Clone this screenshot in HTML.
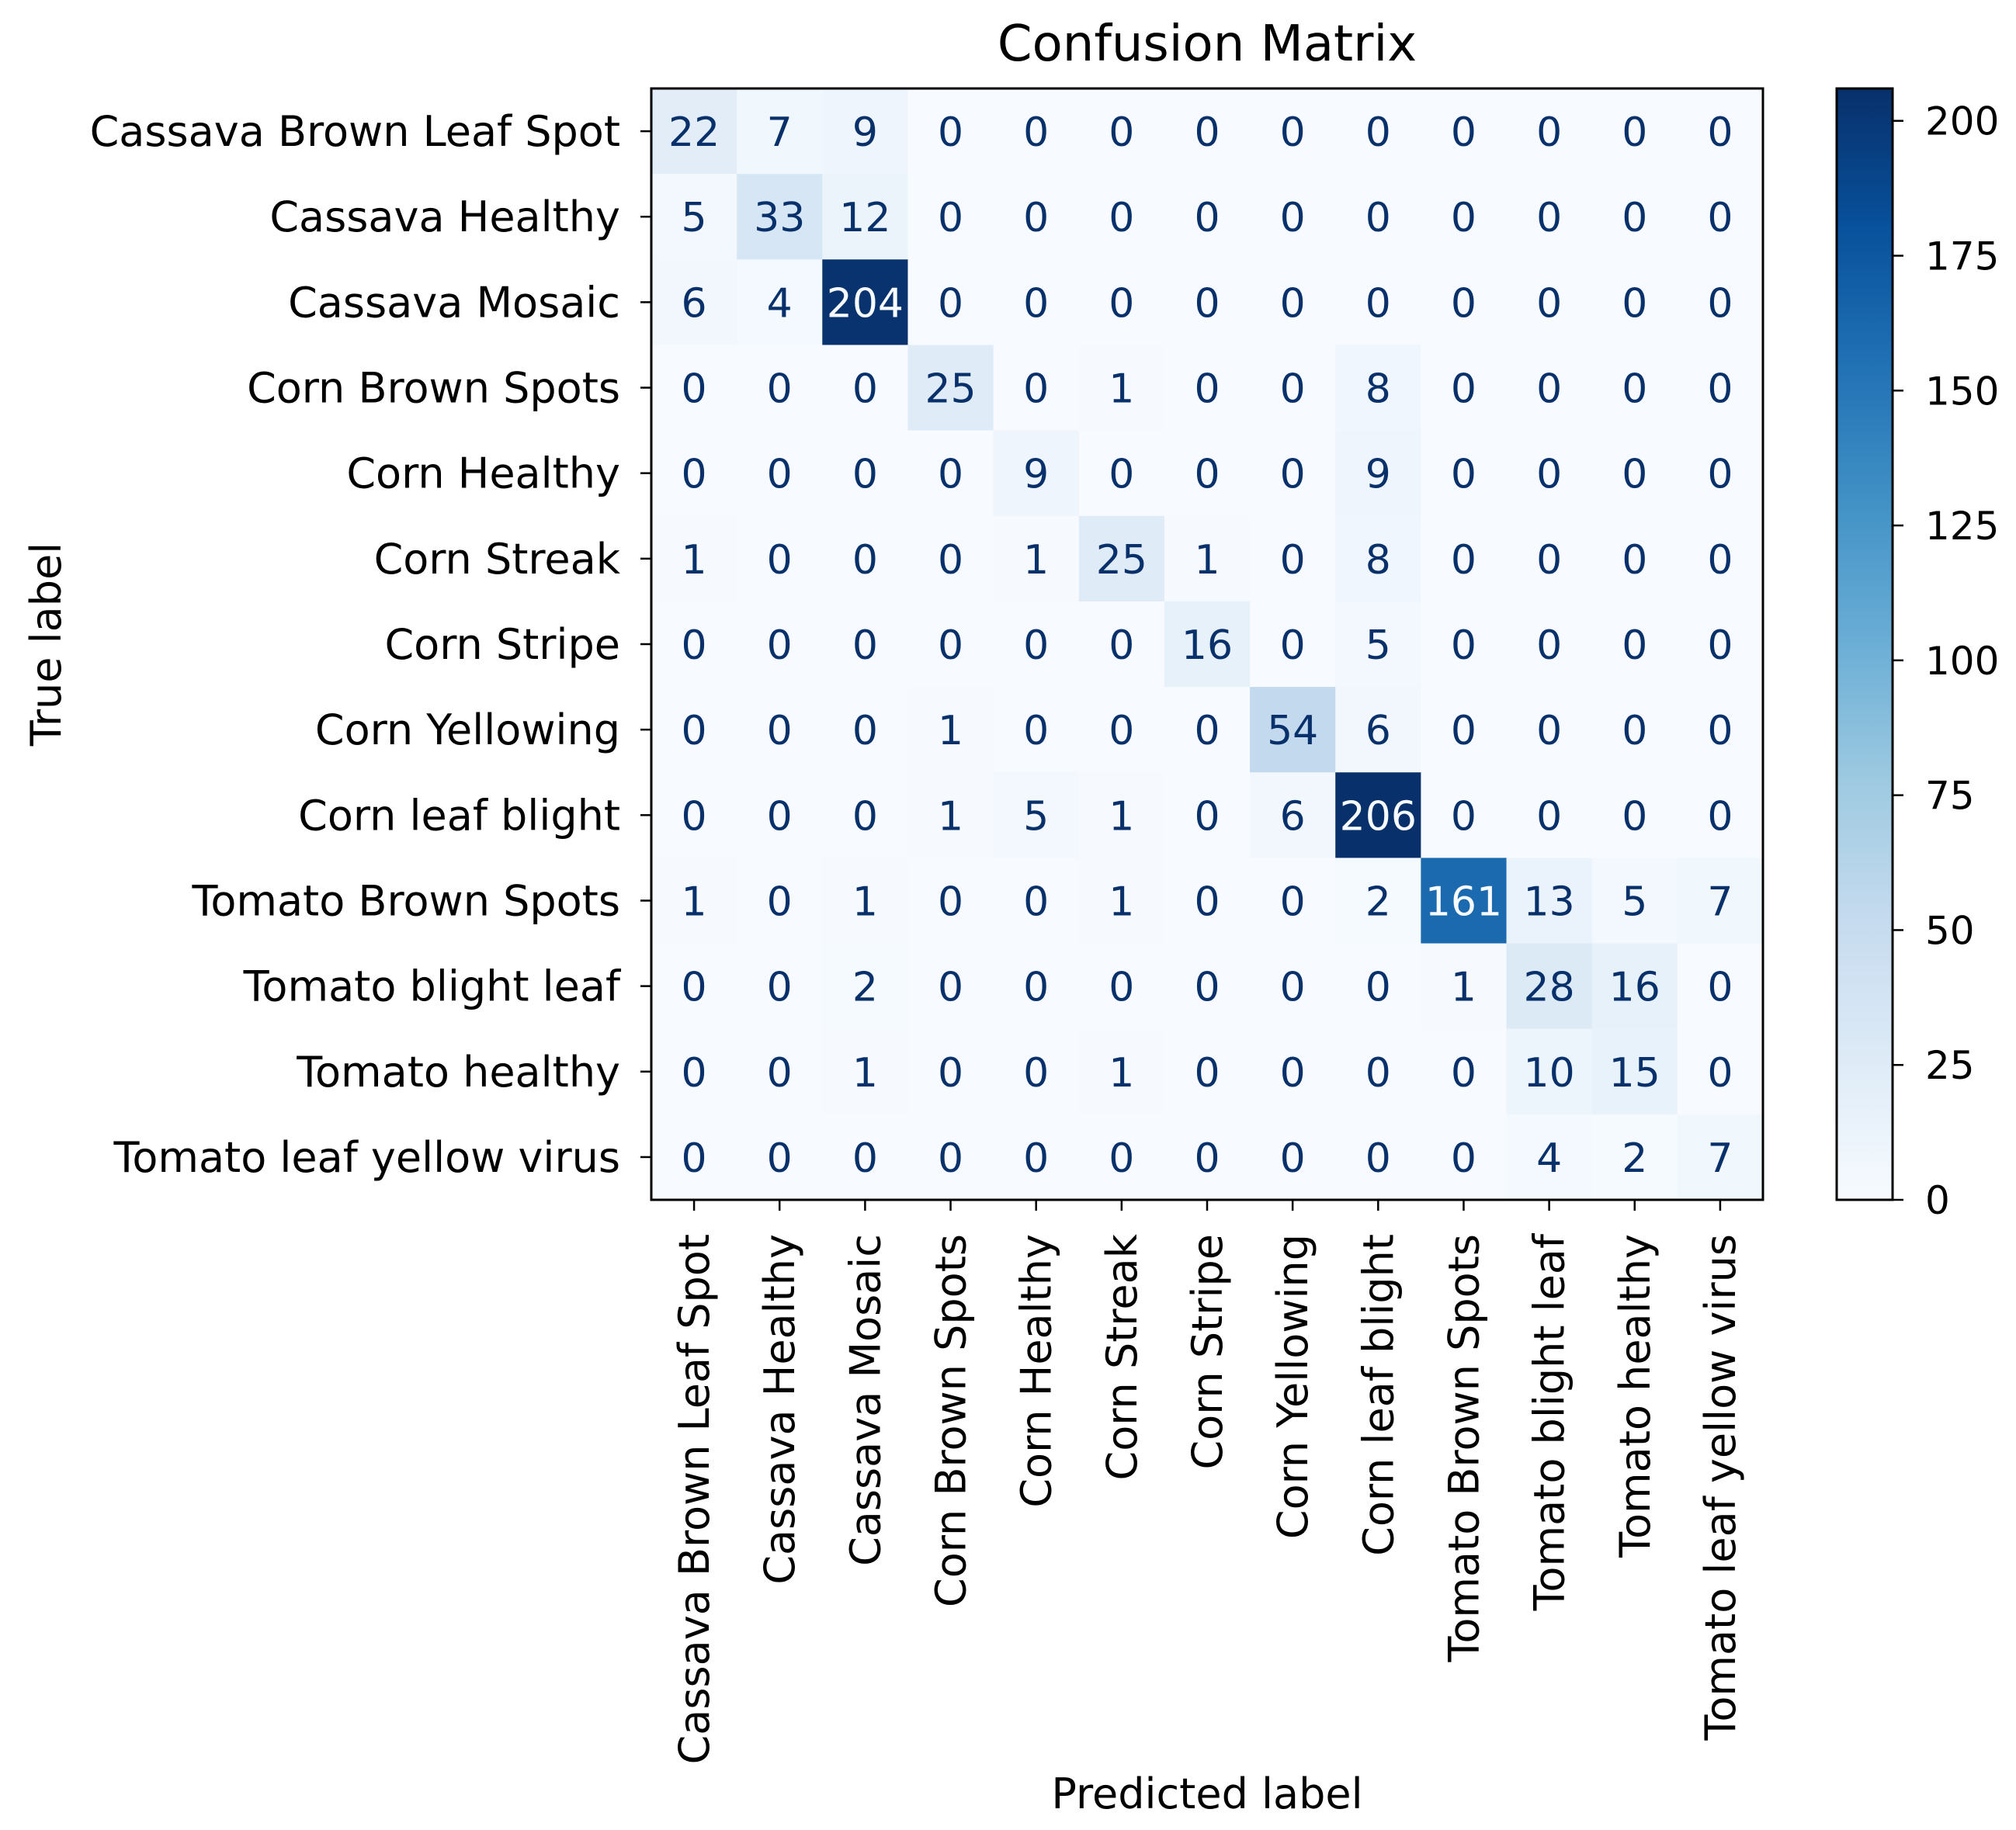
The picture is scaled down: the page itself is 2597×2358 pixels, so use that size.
<!DOCTYPE html>
<html><head><meta charset="utf-8"><style>
html,body{margin:0;padding:0;background:#fff;}
svg{display:block;font-family:"DejaVu Sans","Liberation Sans",sans-serif;}
</style></head>
<body>
<svg id="chart" width="2597" height="2358" viewBox="0 0 2597 2358" xmlns="http://www.w3.org/2000/svg">
<defs><linearGradient id="cbgrad" x1="0" y1="1" x2="0" y2="0">
<stop offset="0" stop-color="#f7fbff"/><stop offset="0.125" stop-color="#deebf7"/><stop offset="0.25" stop-color="#c6dbef"/><stop offset="0.375" stop-color="#9ecae1"/><stop offset="0.5" stop-color="#6baed6"/><stop offset="0.625" stop-color="#4292c6"/><stop offset="0.75" stop-color="#2171b5"/><stop offset="0.875" stop-color="#08519c"/><stop offset="1" stop-color="#08306b"/>
</linearGradient></defs>
<g id="cells"></g>
<g id="axes"></g>
</svg>
<script>
const labels = ["Cassava Brown Leaf Spot","Cassava Healthy","Cassava Mosaic","Corn Brown Spots","Corn Healthy","Corn Streak","Corn Stripe","Corn Yellowing","Corn leaf blight","Tomato Brown Spots","Tomato blight leaf","Tomato healthy","Tomato leaf yellow virus"];
const row0 = [22,7,9,0,0,0,0,0,0,0,0,0,0];
const row1 = [5,33,12,0,0,0,0,0,0,0,0,0,0];
const row2 = [6,4,204,0,0,0,0,0,0,0,0,0,0];
const row3 = [0,0,0,25,0,1,0,0,8,0,0,0,0];
const row4 = [0,0,0,0,9,0,0,0,9,0,0,0,0];
const row5 = [1,0,0,0,1,25,1,0,8,0,0,0,0];
const row6 = [0,0,0,0,0,0,16,0,5,0,0,0,0];
const row7 = [0,0,0,1,0,0,0,54,6,0,0,0,0];
const row8 = [0,0,0,1,5,1,0,6,206,0,0,0,0];
const row9 = [1,0,1,0,0,1,0,0,2,161,13,5,7];
const row10 = [0,0,2,0,0,0,0,0,0,1,28,16,0];
const row11 = [0,0,1,0,0,1,0,0,0,0,10,15,0];
const row12 = [0,0,0,0,0,0,0,0,0,0,4,2,7];
const matrix = [row0,row1,row2,row3,row4,row5,row6,row7,row8,row9,row10,row11,row12];
const cbTicks = [0,25,50,75,100,125,150,175,200];

const NS="http://www.w3.org/2000/svg";
const L=839,T=114,R=2271,B=1546;
const n=labels.length, cw=(R-L)/n, ch=(B-T)/n;
const vmin=0, vmax=Math.max(...matrix.flat());
const stops=[[247,251,255],[222,235,247],[198,219,239],[158,202,225],[107,174,214],[66,146,198],[33,113,181],[8,81,156],[8,48,107]];
function cmap(v){let t=(v-vmin)/(vmax-vmin);t=Math.max(0,Math.min(1,t));const p=t*8,i=Math.min(7,Math.floor(p)),f=p-i;const a=stops[i],b=stops[i+1];return `rgb(${a.map((x,k)=>Math.round(x+(b[k]-x)*f)).join(',')})`;}
function xS(j){return L+j*cw;}
function yS(i){return T+i*ch;}
function mk(tag,attrs,parent,text){const e=document.createElementNS(NS,tag);for(const k in attrs)e.setAttribute(k,attrs[k]);if(text!==undefined)e.textContent=text;parent.appendChild(e);return e;}
const cells=document.getElementById('cells'), axes=document.getElementById('axes');
const thr=(vmax+vmin)/2;
matrix.forEach((row,i)=>row.forEach((v,j)=>{
  const r=mk('rect',{x:xS(j),y:yS(i),width:cw+0.5,height:ch+0.5,fill:cmap(v)},cells);
  
  
  const t=mk('text',{x:xS(j)+cw/2,y:yS(i)+ch/2+19,'text-anchor':'middle','font-size':52,fill:v>thr?'#f7fbff':'#08306b'},cells,String(v));
  
  
}));
const frame=mk('rect',{x:L,y:T,width:R-L,height:B-T,fill:'none',stroke:'#000','stroke-width':3},axes);


labels.forEach((lab,i)=>{
  const y=yS(i)+ch/2;
  mk('line',{x1:L-14,x2:L,y1:y,y2:y,stroke:'#000','stroke-width':2.5},axes);
  const t=mk('text',{x:L-40,y:y+19,'text-anchor':'end','font-size':54,fill:'#000'},axes,lab);
  
  
  const x=xS(i)+cw/2;
  mk('line',{x1:x,x2:x,y1:B,y2:B+14,stroke:'#000','stroke-width':2.5},axes);
  const tx=mk('text',{x:0,y:0,'text-anchor':'end','font-size':54,fill:'#000',transform:`translate(${x+19},${B+44}) rotate(-90)`},axes,lab);
  
  
});
const title=mk('text',{x:(L+R)/2,y:78,'text-anchor':'middle','font-size':64,fill:'#000'},axes,'Confusion Matrix');


const xt=mk('text',{x:(L+R)/2,y:2330,'text-anchor':'middle','font-size':54,fill:'#000'},axes,'Predicted label');


const yt=mk('text',{x:0,y:0,'text-anchor':'middle','font-size':54,fill:'#000',transform:`translate(78,${(T+B)/2}) rotate(-90)`},axes,'True label');


const CL=2366,CR=2438;
const cb=mk('rect',{x:CL,y:T,width:CR-CL,height:B-T,fill:'url(#cbgrad)',stroke:'#000','stroke-width':3},axes);


function cbY(v){return B-(v-vmin)/(vmax-vmin)*(B-T);}
cbTicks.forEach(v=>{
  const y=cbY(v);
  mk('line',{x1:CR,x2:CR+14,y1:y,y2:y,stroke:'#000','stroke-width':2.5},axes);
  const t=mk('text',{x:CR+42,y:y+18,'font-size':50,fill:'#000'},axes,String(v));
  
  
});
</script>
</body></html>
